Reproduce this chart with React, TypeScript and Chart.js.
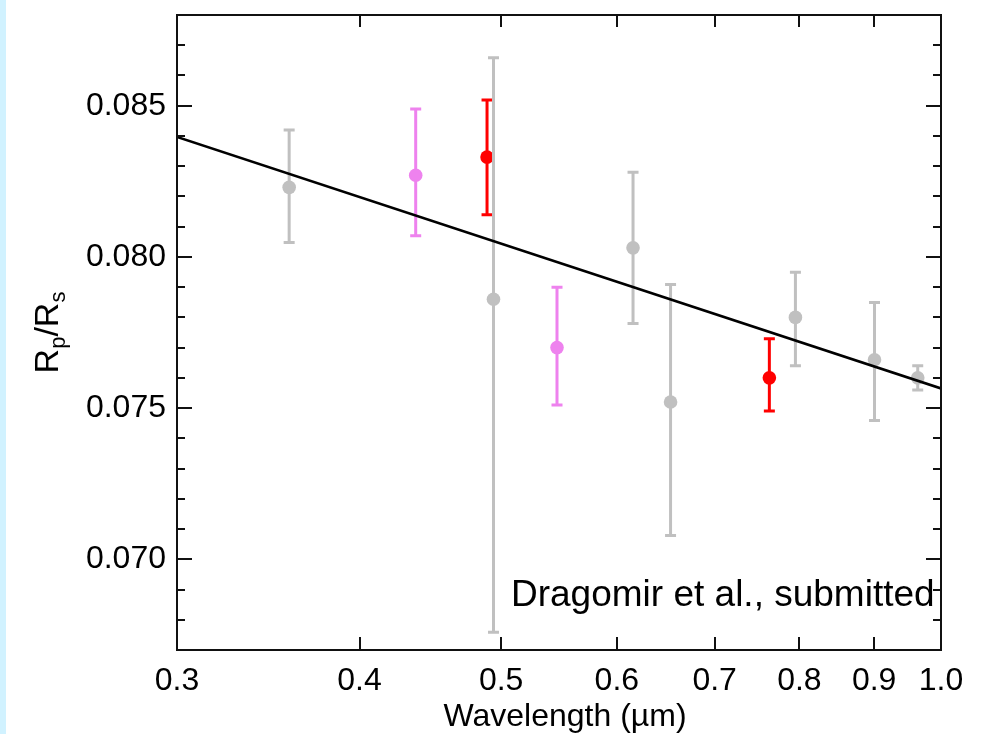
import React, { useEffect, useRef } from "react";
import { Chart, registerables } from "chart.js";

Chart.register(...registerables);

// ---- data ----
const wavelengths = [0.358, 0.437, 0.489, 0.494, 0.546, 0.6155, 0.653, 0.763, 0.795, 0.9005, 0.964];
const radiusRatio = [0.0823, 0.0827, 0.0833, 0.0786, 0.0770, 0.0803, 0.0752, 0.0760, 0.0780, 0.0766, 0.0760];
const lowerBound = [0.08048, 0.0807, 0.08139, 0.06759, 0.0751, 0.0778, 0.07079, 0.0749, 0.0764, 0.07459, 0.0756];
const upperBound = [0.0842, 0.08489, 0.08519, 0.08659, 0.079, 0.0828, 0.07909, 0.07729, 0.07949, 0.07849, 0.0764];
const pointColors = ["#c0c0c0", "#ee82ee", "#ff0000", "#c0c0c0", "#ee82ee", "#c0c0c0", "#c0c0c0", "#ff0000", "#c0c0c0", "#c0c0c0", "#c0c0c0"];
const fitWavelengths = [0.3, 1.0];
const fitRatio = [0.08397, 0.07565];
const xTickValues = [0.3, 0.4, 0.5, 0.6, 0.7, 0.8, 0.9, 1.0];
const yTickValues = [0.07, 0.075, 0.08, 0.085];
const yMinorTicks = [0.068, 0.069, 0.071, 0.072, 0.073, 0.074, 0.076, 0.077, 0.078, 0.079, 0.081, 0.082, 0.083, 0.084, 0.086, 0.087];
const xTitle = "Wavelength (\u00b5m)";
const annotationText = "Dragomir et al., submitted";

const FONT = '"Liberation Sans", Arial, Helvetica, sans-serif';

const errorBarPlugin = {
  id: "errorBars",
  beforeDatasetDraw(chart: any, args: any) {
    const ds = chart.data.datasets[args.index];
    if (ds.errLow === undefined) return;
    const { ctx, scales } = chart;
    const px = scales.x.getPixelForValue(ds.data[0].x);
    const pLow = scales.y.getPixelForValue(ds.errLow);
    const pHigh = scales.y.getPixelForValue(ds.errHigh);
    ctx.save();
    ctx.strokeStyle = ds.backgroundColor;
    ctx.lineWidth = 3;
    ctx.beginPath();
    ctx.moveTo(px, pLow);
    ctx.lineTo(px, pHigh);
    ctx.moveTo(px - 5.5, pLow);
    ctx.lineTo(px + 5.5, pLow);
    ctx.moveTo(px - 5.5, pHigh);
    ctx.lineTo(px + 5.5, pHigh);
    ctx.stroke();
    ctx.restore();
  },
};

const framePlugin = {
  id: "frame",
  afterDraw(chart: any) {
    const { ctx, chartArea: a, scales } = chart;
    ctx.save();
    ctx.strokeStyle = "#111";
    ctx.lineWidth = 2;
    ctx.strokeRect(a.left, a.top, a.right - a.left, a.bottom - a.top);
    ctx.beginPath();
    const yt = (v: number, len: number) => {
      const p = Math.round(scales.y.getPixelForValue(v));
      ctx.moveTo(a.left, p);
      ctx.lineTo(a.left + len, p);
      ctx.moveTo(a.right, p);
      ctx.lineTo(a.right - len, p);
    };
    yTickValues.forEach((v) => yt(v, 15));
    yMinorTicks.forEach((v) => yt(v, 8));
    xTickValues.forEach((v) => {
      if (v <= 0.3 || v >= 1.0) return;
      const p = Math.round(scales.x.getPixelForValue(v));
      ctx.moveTo(p, a.bottom);
      ctx.lineTo(p, a.bottom - 13);
      ctx.moveTo(p, a.top);
      ctx.lineTo(p, a.top + 12);
    });
    ctx.stroke();

    // annotation
    ctx.fillStyle = "#000";
    ctx.font = `37px ${FONT}`;
    ctx.textAlign = "left";
    ctx.textBaseline = "alphabetic";
    ctx.fillText(annotationText, 511, 606);

    // x title
    ctx.font = `32px ${FONT}`;
    ctx.textAlign = "center";
    ctx.fillText(xTitle, 565, 726);

    // y title with subscripts
    ctx.translate(58, (a.top + a.bottom) / 2);
    ctx.rotate(-Math.PI / 2);
    const big = `34px ${FONT}`;
    const small = `22px ${FONT}`;
    const parts: [string, string, number][] = [
      ["R", big, 0],
      ["p", small, 7],
      ["/", big, 0],
      ["R", big, 0],
      ["s", small, 7],
    ];
    let total = 0;
    parts.forEach(([t, f]) => {
      ctx.font = f;
      total += ctx.measureText(t).width;
    });
    let x = -total / 2;
    ctx.textAlign = "left";
    parts.forEach(([t, f, dy]) => {
      ctx.font = f;
      ctx.fillText(t, x, dy);
      x += ctx.measureText(t).width;
    });
    ctx.restore();
  },
};

export default function App() {
  const ref = useRef<HTMLCanvasElement | null>(null);
  useEffect(() => {
    if (!ref.current) return;
    const n = wavelengths.length;
    const pointSets = wavelengths.map((w, i) => ({
      type: "scatter",
      data: [{ x: w, y: radiusRatio[i] }],
      backgroundColor: pointColors[i],
      borderColor: pointColors[i],
      pointRadius: 6.8,
      pointBorderWidth: 0,
      errLow: lowerBound[i],
      errHigh: upperBound[i],
      order: n - i + 1,
    }));
    const fitSet = {
      type: "line",
      data: fitWavelengths.map((w, i) => ({ x: w, y: fitRatio[i] })),
      borderColor: "#000",
      borderWidth: 2.5,
      pointRadius: 0,
      fill: false,
      order: 0,
    };
    const chart = new Chart(ref.current, {
      type: "scatter",
      data: { datasets: [fitSet, ...pointSets] as any },
      options: {
        animation: false,
        responsive: false,
        layout: { padding: { top: 15, right: 49, left: 0, bottom: 0 } },
        plugins: { legend: { display: false }, tooltip: { enabled: false } },
        scales: {
          x: {
            type: "logarithmic",
            min: 0.3,
            max: 1.0,
            afterBuildTicks: (s: any) => {
              s.ticks = xTickValues.map((v) => ({ value: v }));
            },
            afterFit: (s: any) => {
              s.height = 84;
              s.paddingLeft = 0;
              s.paddingRight = 0;
            },
            ticks: {
              callback: (v: any) => Number(v).toFixed(1),
              font: { family: FONT, size: 32 },
              color: "#000",
              padding: 12,
              maxRotation: 0,
              autoSkip: false,
            },
            grid: { display: false, drawTicks: false },
            border: { display: false },
          },
          y: {
            type: "linear",
            min: 0.067,
            max: 0.088,
            afterBuildTicks: (s: any) => {
              s.ticks = yTickValues.map((v) => ({ value: v }));
            },
            afterFit: (s: any) => {
              s.width = 177;
              s.paddingTop = 0;
              s.paddingBottom = 0;
            },
            ticks: {
              callback: (v: any) => Number(v).toFixed(3),
              font: { family: FONT, size: 32 },
              color: "#000",
              padding: 11,
              autoSkip: false,
            },
            grid: { display: false, drawTicks: false },
            border: { display: false },
          },
        },
      } as any,
      plugins: [errorBarPlugin, framePlugin],
    });
    return () => chart.destroy();
  }, []);

  return (
    <div style={{ position: "fixed", left: 0, top: 0, width: 990, height: 734, background: "#fff", overflow: "hidden" }}>
      <div style={{ position: "absolute", left: 0, top: 0, width: 6, height: 734, background: "#d1f2ff" }} />
      <canvas ref={ref} width={990} height={734} style={{ position: "absolute", left: 0, top: 0, width: 990, height: 734 }} />
    </div>
  );
}
